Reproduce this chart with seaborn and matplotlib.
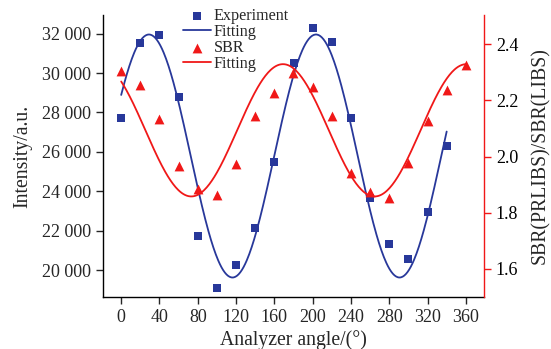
import numpy as np
import pandas as pd
import matplotlib
matplotlib.use("Agg")
import matplotlib.pyplot as plt
from matplotlib.ticker import FuncFormatter, MultipleLocator
import seaborn as sns

# ---- data ----
angle_exp = [0, 20, 40, 60, 80, 100, 120, 140, 160, 180, 200, 220, 240, 260, 280, 300, 320, 340]
intensity = [27740, 31550, 31950, 28800, 21730, 19110, 20240, 22150, 25470, 30510,
             32270, 31560, 27740, 23650, 21330, 20550, 22950, 26320]

angle_sbr = [0, 20, 40, 60, 80, 100, 120, 140, 160, 180, 200, 220, 240, 260, 280, 300, 320, 340, 360]
sbr = [2.305, 2.255, 2.134, 1.966, 1.884, 1.864, 1.973, 2.145, 2.226, 2.297,
       2.246, 2.145, 1.943, 1.874, 1.853, 1.977, 2.126, 2.238, 2.326]

# fitted sine parameters (offset, amplitude, period, phase of peak)
fit_int = dict(offset=25790, amp=6170, period=174.5, peak=29.0, start=0, stop=340)
fit_sbr = dict(offset=2.0935, amp=0.2355, period=191.6, peak=169.0, start=0, stop=360)

def fit_curve(p):
    x = np.linspace(p["start"], p["stop"], 400)
    y = p["offset"] + p["amp"] * np.cos(2 * np.pi * (x - p["peak"]) / p["period"])
    return pd.DataFrame({"x": x, "y": y})

blue = "#28389A"
red = "#F01818"

sns.set_theme(style="ticks")
plt.rcParams["font.family"] = ["Liberation Serif", "DejaVu Serif"]
plt.rcParams["mathtext.fontset"] = "stix"

fig = plt.figure(figsize=(5.51, 3.49), dpi=100)
ax = fig.add_axes([103 / 551, 1 - 297 / 349, (484 - 103) / 551, (297 - 15) / 349])
ax2 = ax.twinx()

df_exp = pd.DataFrame({"x": angle_exp, "y": intensity})
df_sbr = pd.DataFrame({"x": angle_sbr, "y": sbr})

sns.scatterplot(data=df_exp, x="x", y="y", ax=ax, marker="s", s=28, color=blue,
                edgecolor=blue, linewidth=0, label="Experiment", zorder=3)
sns.lineplot(data=fit_curve(fit_int), x="x", y="y", ax=ax, color=blue, lw=1.3,
             label="Fitting", zorder=2)
sns.scatterplot(data=df_sbr, x="x", y="y", ax=ax2, marker="^", s=50, color=red,
                edgecolor=red, linewidth=0, label="SBR", zorder=3)
sns.lineplot(data=fit_curve(fit_sbr), x="x", y="y", ax=ax2, color=red, lw=1.3,
             label="Fitting", zorder=2)

ax.set_xlim(-19, 379)
ax.set_ylim(18630, 32950)
ax2.set_ylim(1.50, 2.504)

ax.xaxis.set_major_locator(MultipleLocator(40))
ax.yaxis.set_major_locator(MultipleLocator(2000))
ax.yaxis.set_major_formatter(FuncFormatter(lambda v, p: f"{int(round(v)):,}".replace(",", " ")))
ax2.yaxis.set_major_locator(MultipleLocator(0.2))
ax2.yaxis.set_major_formatter(FuncFormatter(lambda v, p: f"{v:.1f}"))

fs = 13
lfs = 14.2
ax.set_xlabel("Analyzer angle/(°)", fontsize=lfs, labelpad=3)
ax.set_ylabel("Intensity/a.u.", fontsize=lfs, labelpad=7)
ax2.set_ylabel("SBR(PRLIBS)/SBR(LIBS)", fontsize=lfs, labelpad=9)

for a in (ax, ax2):
    a.spines["top"].set_visible(False)
    a.tick_params(labelsize=fs, length=5, width=1, direction="out")
ax.spines["left"].set_color("black")
ax.spines["bottom"].set_color("black")
ax.spines["right"].set_visible(False)
ax2.spines["left"].set_visible(False)
ax2.spines["bottom"].set_visible(False)
ax2.spines["right"].set_color(red)
ax2.tick_params(axis="y", colors=red, labelcolor="black")
for a in (ax, ax2):
    for s in a.spines.values():
        s.set_linewidth(1.0)

h1, l1 = ax.get_legend_handles_labels()
h2, l2 = ax2.get_legend_handles_labels()
for a in (ax, ax2):
    if a.get_legend() is not None:
        a.get_legend().remove()
fig.legend(h1 + h2, l1 + l2, loc="upper left", bbox_to_anchor=(183 / 551, 1 - 8 / 349),
           frameon=False, fontsize=11.6, handlelength=1.75, handletextpad=0.16,
           labelspacing=0.0, borderpad=0, borderaxespad=0)

fig.savefig("out.png", dpi=100)
